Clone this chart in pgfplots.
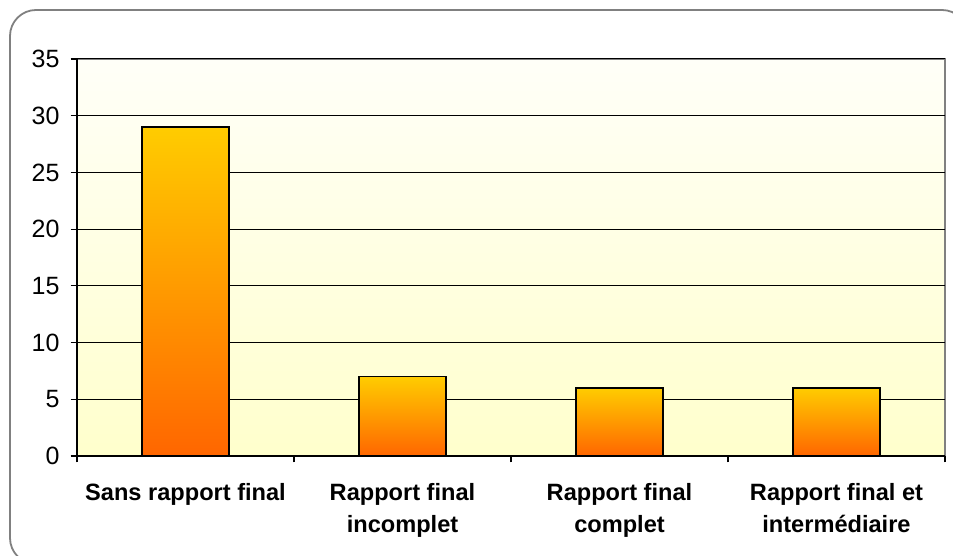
\documentclass[border=0pt]{standalone}
\usepackage{pgfplots}
\pgfplotsset{compat=1.18}
\usepackage{fontspec}
\setmainfont{Liberation Sans}

\definecolor{barTop}{HTML}{FFCC00}
\definecolor{barBottom}{HTML}{FF6600}
\definecolor{bgTop}{HTML}{FFFFF8}
\definecolor{bgBottom}{HTML}{FFFFCC}
\definecolor{frameGray}{HTML}{808080}

\pgfplotsset{
  shadedbar/.style={ybar, bar shift=0pt, draw=black, line width=0.8pt,
    top color=barTop, bottom color=barBottom},
}

\begin{document}
\begin{tikzpicture}
  % canvas: 476.5pt x 278pt (half a point per pixel), y measured upward
  \useasboundingbox (0pt,0pt) rectangle (476.5pt,278pt);
  \begin{scope}
    \clip (0pt,0pt) rectangle (476.5pt,278pt);
    \draw[frameGray, line width=0.9pt, rounded corners=13pt] (5pt,273pt) rectangle (484pt,-4pt);
  \end{scope}

  \begin{axis}[
    at={(38.5pt,50pt)}, anchor=south west,
    scale only axis,
    width=434pt, height=198.5pt,
    xmin=-0.5, xmax=3.5,
    ymin=0, ymax=35,
    enlargelimits=false,
    axis lines*=left,
    axis line style={-, black, line width=0.6pt},
    axis background/.style={top color=bgTop, bottom color=bgBottom, draw=frameGray, line width=1pt},
    ytick={0,5,...,35},
    ymajorgrids,
    major grid style={black, line width=0.5pt},
    tick align=outside,
    major tick length=3.2pt,
    tick style={black, line width=0.6pt},
    xtick={-0.5,0.5,1.5,2.5,3.5},
    xticklabels={},
    extra x ticks={0,1,2,3},
    extra x tick labels={{Sans rapport final},{Rapport final\\incomplet},{Rapport final\\complet},{Rapport final et\\intermédiaire}},
    extra x tick style={major tick length=0pt, grid=none,
      tick label style={font=\fontsize{11.8}{16}\selectfont\bfseries, align=center, anchor=north, yshift=-10pt}},
    yticklabel style={font=\fontsize{12.5}{14}\selectfont, xshift=-2pt},
    /pgf/number format/assume math mode=true,
    bar width=0.4,
  ]
    % one plot per bar so that each bar carries its own gradient
    \addplot[shadedbar] coordinates {(0,29)};
    \addplot[shadedbar] coordinates {(1,7)};
    \addplot[shadedbar] coordinates {(2,6)};
    \addplot[shadedbar] coordinates {(3,6)};
  \end{axis}
\end{tikzpicture}
\end{document}
